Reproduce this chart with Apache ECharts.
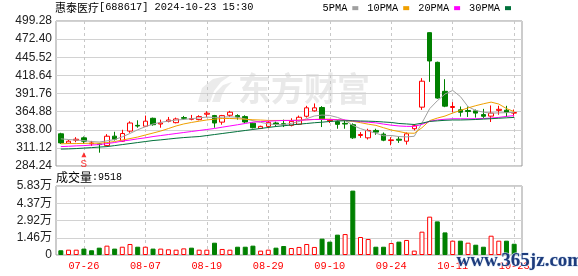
<!DOCTYPE html>
<html><head><meta charset="utf-8">
<script src="https://cdn.jsdelivr.net/npm/echarts@6/dist/echarts.min.js"></script>
<style>html,body{margin:0;padding:0;background:#fff}#c{width:578px;height:276px}</style>
</head><body><div id="c"></div>
<script>
// ---------- data ----------
const stockName = '惠泰医疗';
const stockCode = '688617';
const stamp = '2024-10-23 15:30';
const volumeCaption = '成交量';
const watermarkText = '东方财富';
const siteMark = 'www.365jz.com';

const dates = ['07-23','07-24','07-25','07-26','07-29','07-30','07-31','08-01','08-02','08-05',
  '08-06','08-07','08-08','08-09','08-12','08-13','08-14','08-15','08-16','08-19',
  '08-20','08-21','08-22','08-23','08-26','08-27','08-28','08-29','08-30','09-02',
  '09-03','09-04','09-05','09-06','09-09','09-10','09-11','09-12','09-13','09-18',
  '09-19','09-20','09-23','09-24','09-25','09-26','09-27','09-30','10-08','10-09',
  '10-10','10-11','10-14','10-15','10-16','10-17','10-18','10-21','10-22','10-23'];

const opens = [332,318,322.5,326,317.2,317,314.5,328.5,321,336,
  344.5,343.3,355,346.5,350.5,348.5,356,353.5,353,361,
  359,349.3,359.5,359,357.5,347.8,340,343,348,347,
  344.5,346,358,366,371,351,350,347.5,345.5,329.5,
  326,337,331.5,322,324,321,339.5,371.5,482,438,
  395,371,367.5,366.5,366,360.5,358.2,366.7,367,362.7];
const closes = [318.5,321,324,321,318.3,316,328.4,324,332.4,348,
  343.5,350.7,345.5,348,352.5,354,355,354.5,357.5,362.5,
  348,359,364,357,349.5,341,343,349,346,345.5,
  350.5,356.5,370.5,370.5,353.5,352,346,346.5,326,331,
  337,334.5,322.5,323,322.5,332,344,410,440,385,
  373,372.5,364,365,362.7,358,362.7,368.3,364,363.5];
const lows = [317,317.5,319.5,317,314,304,313.5,322,320,333.5,
  341,342,344,341,349,347.5,353,352,352,356.5,
  341,345.5,357,353,348,340,339,340,343,342,
  343,345,356,365,342,348,339.5,339.5,324.5,326,
  323.5,330.5,321,315,318.5,316,337,367.5,409,384,
  371.5,364,357.5,357,356,355.5,349.5,360.2,357,357.5];
const highs = [333.5,323,327,328,321.5,318,331.5,335,338,350.5,
  352,359,356,353,357,356,358.5,360,359.5,365.5,
  360,360,366,361,359.5,348.5,344,351,350,353,
  355,359,373.5,377,373,354,352,352,347.5,334.5,
  339.5,339.5,334,327,328,334,346.5,414.5,482.5,439,
  413,379,372.5,372.5,368,369,374,373.6,373.5,368];

const volumes = [4000,4500,4500,5400,4000,6200,7900,5400,7000,9300,
  7000,7000,5400,5400,4800,4500,5600,6200,4500,4500,
  10400,5100,4500,7000,7000,7900,3700,4500,6200,7600,
  5900,6800,9300,6800,13800,11300,17200,17700,54400,15200,
  13500,7000,7000,10100,11300,12700,3700,19700,32400,28400,
  19100,12100,12100,10400,8700,7000,16300,12100,12100,9518];
// 1 = up day (hollow red bar), 0 = down day (solid green bar)
const volumeUp = [0,1,1,0,0,0,1,0,1,1,
  0,1,0,1,1,1,1,0,1,1,
  0,1,1,0,0,0,1,1,0,0,
  1,1,1,1,0,0,0,1,0,1,
  1,0,0,1,0,1,1,1,1,0,
  0,1,0,1,0,0,1,1,0,0];

const ma5 = [324.5,323.5,322.7,322.0,320.5,319.8,321.5,323.5,327.5,332.5,
  338.0,342.5,346.5,349.0,350.8,352.3,353.3,354.4,355.6,356.8,
  356.2,356.7,357.2,356.5,354.0,351.5,349.0,346.8,345.6,345.5,
  347.5,350.2,354.5,358.4,359.8,359.2,356.3,352.0,344.5,339.7,
  336.0,333.0,329.0,329.5,327.9,327.4,328.3,348.0,369.2,381.0,
  391.0,396.3,387.2,372.2,366.6,364.0,362.6,363.0,363.4,363.7];
const ma10 = [317.1,317.5,317.5,317.8,318.0,318.0,319.0,320.5,322.7,324.9,
  327.2,330.2,333.1,336.1,339.8,343.6,346.6,348.8,350.7,352.5,
  353.7,354.7,354.7,354.3,353.6,352.8,352.4,351.8,351.8,351.8,
  351.8,352.2,352.8,353.3,353.7,353.7,352.8,351.8,350.5,348.5,
  346.3,344.5,341.0,337.6,335.4,333.1,332.8,341.0,351.5,355.3,
  358.3,362.8,366.6,370.4,373.7,376.5,379.0,376.1,369.4,364.9];
const ma20 = [313.0,313.5,314.1,314.5,315.3,316.0,317.5,319.0,321.2,322.7,
  324.5,326.0,327.9,329.4,330.9,332.4,333.9,335.4,336.9,338.4,
  339.9,341.8,343.6,345.4,347.3,349.3,350.0,350.7,351.3,351.8,
  351.8,352.0,352.6,353.2,353.3,353.2,352.8,352.5,351.2,350.0,
  349.2,348.2,346.4,344.8,343.6,343.0,343.0,346.0,350.5,352.5,
  353.6,354.3,354.3,354.2,354.4,354.7,355.4,356.3,357.8,359.0];
const ma30 = [309.3,309.6,310.1,310.8,311.5,312.3,313.0,314.5,316.0,317.5,
  319.0,320.5,322.0,323.0,324.2,325.4,326.4,327.2,327.9,329.4,
  330.9,332.4,333.9,335.4,336.9,338.4,339.9,341.4,342.8,343.9,
  345.1,346.3,347.3,348.4,349.2,350.3,351.0,351.3,351.3,351.0,
  350.7,350.3,349.5,348.8,347.3,346.6,345.8,347.7,350.4,351.2,
  352.0,352.5,352.5,352.8,353.2,353.8,354.4,355.1,355.7,356.3];

const maNames = ['5PMA','10PMA','20PMA','30PMA'];
const priceTicks = ['284.24','311.12','338.00','364.88','391.76','418.64','445.52','472.40','499.28'];
const volumeTicks = ['0','1.46万','2.92万','4.37万','5.83万'];
const volumeAxisMax = 58300;
const labelEvery = 8, labelOffset = 3;
const signalIndex = 3, signalPrice = 301, signalText = 'S';

// ---------- chart ----------
const UP = '#ff0000', DOWN = '#008000';
const maColors = ['#a0a0a0','#f0a000','#ff00ff','#00703a'];
const maData = [ma5, ma10, ma20, ma30];
const pMin = +priceTicks[0], pMax = +priceTicks[priceTicks.length-1];
const pInt = (pMax - pMin) / (priceTicks.length - 1);
const vInt = volumeAxisMax / (volumeTicks.length - 1);
const pick = (idx) => idx % labelEvery === labelOffset;

const chart = echarts.init(document.getElementById('c'), null, {renderer:'canvas'});
const dashed = {show:true, interval: pick, alignWithLabel:true, lineStyle:{color:'#c8c8c8', type:[3,3], width:1}};
const solid = {show:true, lineStyle:{color:'#d2d2d2', width:1}};
const mono = '"Liberation Mono","Noto Sans CJK SC",monospace';

const option = {
  animation:false,
  backgroundColor:'#fff',
  title:[
    {text:`{cn|${stockName}}{en|[${stockCode}] ${stamp}}`, left:55, top:2, padding:0,
     textStyle:{fontWeight:'normal', rich:{cn:{fontFamily:'"Noto Sans CJK SC"', fontSize:11, fontWeight:'normal', color:'#000'},
                      en:{fontFamily:mono, fontSize:10.3, fontWeight:'normal', color:'#000'}}}},
    {text:`{cn|${volumeCaption}}{en|:${volumes[volumes.length-1]}}`, left:56, top:171, padding:0,
     textStyle:{fontWeight:'normal', rich:{cn:{fontFamily:'"Noto Sans CJK SC"', fontSize:12, fontWeight:'normal', color:'#000'},
                      en:{fontFamily:mono, fontSize:10, fontWeight:'normal', color:'#000'}}}}
  ],
  legend:{data:maNames, right:67, top:3, align:'right', icon:'rect', itemWidth:6, itemHeight:4,
    itemGap:9, padding:0, selectedMode:false,
    textStyle:{fontFamily:mono, fontSize:10.3, color:'#000'}},
  grid:[
    {left:56, right:56, top:21, height:145, show:true, borderColor:'#999', borderWidth:1, backgroundColor:'transparent'},
    {left:57, right:60, top:21, height:145},
    {left:56, right:56, top:186, height:69, show:true, borderColor:'#999', borderWidth:1, backgroundColor:'transparent'},
    {left:57, right:60, top:186, height:69}
  ],
  xAxis:[
    {gridIndex:0, type:'value', min:0, max:1, show:false},
    {gridIndex:1, type:'category', data:dates, boundaryGap:true, axisLine:{show:false}, axisTick:{show:false},
     axisLabel:{show:false}, splitLine:dashed},
    {gridIndex:2, type:'value', min:0, max:1, show:false},
    {gridIndex:3, type:'category', data:dates, boundaryGap:true, axisLine:{show:false}, axisTick:{show:false},
     axisLabel:{interval:pick, color:'#ff0000', fontFamily:mono, fontSize:10.3, margin:6}, splitLine:dashed}
  ],
  yAxis:[
    {gridIndex:0, type:'value', min:pMin, max:pMax, interval:pInt, axisLine:{show:false}, axisTick:{show:false},
     axisLabel:{color:'#222', fontFamily:'"Liberation Sans",Arial', fontSize:12, margin:4, showMinLabel:true, showMaxLabel:true,
       formatter:(v)=>priceTicks[Math.round((v-pMin)/pInt)]}, splitLine:solid},
    {gridIndex:1, type:'value', min:pMin, max:pMax, show:false, splitLine:{show:false}},
    {gridIndex:2, type:'value', min:0, max:volumeAxisMax, interval:vInt, axisLine:{show:false}, axisTick:{show:false},
     axisLabel:{color:'#222', fontFamily:'"Liberation Sans","Noto Sans CJK SC"', fontSize:12, margin:4, showMaxLabel:true,
       formatter:(v)=>volumeTicks[Math.round(v/vInt)]}, splitLine:solid},
    {gridIndex:3, type:'value', min:0, max:volumeAxisMax, show:false, splitLine:{show:false}}
  ],
  graphic:[
    {type:'polygon', z:-1, silent:true, shape:{points:[[198,102],[202,88],[213,79],[231,75],[221,82],[214,91],[210,102]]}, style:{fill:'#ebebeb'}},
    {type:'polygon', z:-1, silent:true, shape:{points:[[212,102],[216,92],[223,85],[232,82],[226,88],[222,95],[220,102]]}, style:{fill:'#ebebeb'}},
    {type:'text', left:238, top:72, z:-1, silent:true,
     style:{text:watermarkText, font:'bold 33px "Noto Sans CJK SC"', fill:'#e9e9e9'}},
    {type:'text', left:456, top:251, z:100, silent:true,
     style:{text:siteMark, font:'bold 19px "Liberation Serif"', fill:'#1d3b7c', stroke:'#d6e4f5', lineWidth:1}}
  ],
  series:[
    {type:'candlestick', name:'K', xAxisIndex:1, yAxisIndex:1, barWidth:5, silent:true,
     data: opens.map((o,i)=>[o, closes[i], lows[i], highs[i]]),
     itemStyle:{color:'#ffffff', color0:DOWN, borderColor:UP, borderColor0:DOWN, borderWidth:1}},
    ...maNames.map((n,k)=>({type:'line', name:n, xAxisIndex:1, yAxisIndex:1, data:maData[k], symbol:'none',
      showSymbol:false, silent:true, z:3, lineStyle:{color:maColors[k], width:1}, itemStyle:{color:maColors[k]}})),
    {type:'scatter', name:'signal', xAxisIndex:1, yAxisIndex:1, data:[[signalIndex, signalPrice]], symbol:'triangle',
     symbolSize:[5,5], itemStyle:{color:'#ff0000'}, silent:true,
     label:{show:true, formatter:signalText, position:'bottom', distance:1, color:'#ff0000', fontSize:11, fontFamily:mono}},
    {type:'bar', name:'VOL', xAxisIndex:3, yAxisIndex:3, barWidth:5, silent:true,
     data: volumes.map((v,i)=>({value:v, itemStyle: volumeUp[i]
        ? {color:'#ffffff', borderColor:UP, borderWidth:1}
        : {color:DOWN, borderColor:DOWN, borderWidth:1}}))}
  ]
};
chart.setOption(option);
</script>
</body></html>
